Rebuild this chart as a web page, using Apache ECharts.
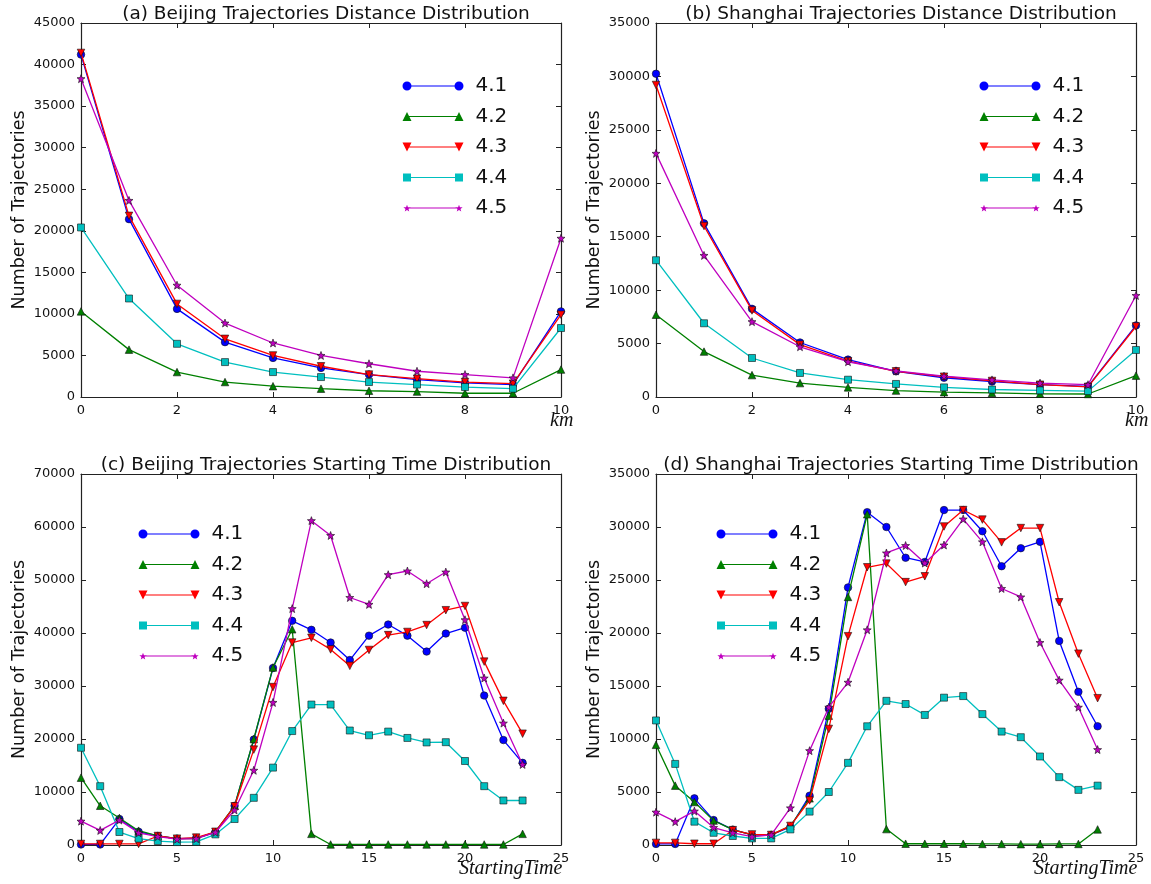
<!DOCTYPE html>
<html>
<head>
<meta charset="utf-8">
<script src="https://cdn.jsdelivr.net/npm/echarts@6/dist/echarts.min.js"></script>
<style>
html,body{margin:0;padding:0;background:#fff;}
#c{width:1151px;height:884px;}
</style>
</head>
<body>
<div id="c"></div>
<script>
// ---------- data ----------
var seriesNames = ['4.1', '4.2', '4.3', '4.4', '4.5'];
var distX = [0, 1, 2, 3, 4, 5, 6, 7, 8, 9, 10];
var hourX = [0, 1, 2, 3, 4, 5, 6, 7, 8, 9, 10, 11, 12, 13, 14, 15, 16, 17, 18, 19, 20, 21, 22, 23];

var bjDist41 = [41200, 21400, 10600, 6600, 4700, 3500, 2700, 2100, 1700, 1500, 10300];
var bjDist42 = [10300, 5700, 3000, 1800, 1300, 1000, 750, 650, 450, 450, 3300];
var bjDist43 = [41400, 21800, 11200, 7000, 5000, 3700, 2700, 2200, 1800, 1600, 9900];
var bjDist44 = [20400, 11850, 6400, 4200, 3000, 2400, 1800, 1500, 1200, 1000, 8300];
var bjDist45 = [38300, 23650, 13450, 8900, 6500, 5000, 4000, 3100, 2700, 2300, 19100];

var shDist41 = [30250, 16250, 8250, 5100, 3500, 2400, 1800, 1450, 1150, 1000, 6700];
var shDist42 = [7700, 4250, 2050, 1300, 900, 600, 450, 380, 300, 280, 2000];
var shDist43 = [29200, 16000, 8100, 4900, 3350, 2400, 1900, 1500, 1150, 950, 6600];
var shDist44 = [12800, 6900, 3650, 2250, 1620, 1220, 900, 700, 620, 550, 4400];
var shDist45 = [22800, 13250, 7050, 4700, 3300, 2450, 1950, 1600, 1300, 1150, 9500];

var bjTime41 = [100, 100, 4900, 2500, 1700, 1200, 1300, 2400, 7400, 19900, 33400, 42300, 40600, 38200, 34900, 39500, 41600, 39500, 36500, 39900, 41000, 28200, 19800, 15500];
var bjTime42 = [12700, 7400, 5100, 2700, 1700, 1200, 1200, 2500, 7400, 20000, 33500, 40700, 2100, 100, 100, 100, 100, 100, 100, 100, 100, 100, 100, 2100];
var bjTime43 = [200, 200, 200, 200, 1700, 1200, 1400, 2500, 7300, 18000, 29800, 38200, 39100, 36900, 33800, 36800, 39600, 40200, 41500, 44300, 45100, 34600, 27200, 21000];
var bjTime44 = [18350, 11100, 2450, 1200, 750, 550, 600, 2000, 4900, 8900, 14600, 21500, 26500, 26500, 21600, 20700, 21400, 20200, 19350, 19400, 15850, 11100, 8400, 8400];
var bjTime45 = [4500, 2750, 4700, 2300, 1600, 1100, 1200, 2400, 6600, 14100, 26900, 44600, 61200, 58400, 46700, 45400, 51000, 51700, 49300, 51500, 42500, 31500, 23000, 15200];

var shTime41 = [100, 100, 4400, 2350, 1450, 950, 950, 1700, 4650, 12850, 24300, 31400, 30000, 27100, 26700, 31600, 31600, 29600, 26300, 28000, 28600, 19250, 14450, 11200];
var shTime42 = [9450, 5600, 4050, 2300, 1450, 950, 950, 1800, 4400, 12200, 23400, 31200, 1500, 120, 120, 120, 120, 100, 100, 80, 80, 100, 100, 1470];
var shTime43 = [200, 200, 120, 120, 1400, 1000, 950, 1800, 4200, 10950, 19700, 26200, 26550, 24800, 25350, 30050, 31600, 30700, 28550, 29900, 29900, 22900, 18050, 13850];
var shTime44 = [11750, 7650, 2200, 1150, 850, 620, 620, 1470, 3150, 5000, 7750, 11200, 13600, 13300, 12270, 13900, 14050, 12350, 10700, 10170, 8350, 6400, 5200, 5600];
var shTime45 = [3100, 2200, 3200, 1650, 1150, 780, 950, 3500, 8900, 13000, 15350, 20300, 27550, 28250, 26600, 28300, 30750, 28600, 24200, 23400, 19100, 15550, 13000, 9000];

var titles = [
  '(a) Beijing Trajectories Distance Distribution',
  '(b) Shanghai Trajectories Distance Distribution',
  '(c) Beijing Trajectories Starting Time Distribution',
  '(d) Shanghai Trajectories Starting Time Distribution'
];
var yName = 'Number of Trajectories';
var xNames = ['km', 'km', 'StartingTime', 'StartingTime'];

// ---------- styling ----------
var FONT = 'DejaVu Sans';
var colors = ['#0000ff', '#008000', '#ff0000', '#00bfbf', '#bf00bf'];

function starPath(cx, cy, R, r) {
  var s = '';
  for (var i = 0; i < 10; i++) {
    var a = -Math.PI / 2 + i * Math.PI / 5;
    var rr = (i % 2 === 0) ? R : r;
    var x = (cx + rr * Math.cos(a)).toFixed(3);
    var y = (cy + rr * Math.sin(a)).toFixed(3);
    s += (i === 0 ? 'M' : 'L') + x + ',' + y + ' ';
  }
  return s + 'Z ';
}
function markerPath(kind, cx) {
  var h = 4.5;
  if (kind === 'circle') return 'M' + (cx - h) + ',4.5 A4.5,4.5 0 1 1 ' + (cx + h) + ',4.5 A4.5,4.5 0 1 1 ' + (cx - h) + ',4.5 Z ';
  if (kind === 'up') return 'M' + cx + ',0 L' + (cx + h) + ',9 L' + (cx - h) + ',9 Z ';
  if (kind === 'down') return 'M' + (cx - h) + ',0 L' + (cx + h) + ',0 L' + cx + ',9 Z ';
  if (kind === 'square') return 'M' + (cx - 4) + ',0.5 L' + (cx + 4) + ',0.5 L' + (cx + 4) + ',8.5 L' + (cx - 4) + ',8.5 Z ';
  return starPath(cx, 5, 3.8, 1.6);
}
var legendKinds = ['circle', 'up', 'down', 'square', 'star'];
function legendIcon(kind) {
  var c1 = 4.5, c2 = 56.5;
  var bbox = 'M0,0 L0.01,0 L0.01,0.01 Z M61,9 L60.99,9 L60.99,8.99 Z ';
  var line = 'M' + c1 + ',4 L' + c2 + ',4 L' + c2 + ',5 L' + c1 + ',5 Z ';
  return 'path://' + line + markerPath(kind, c1) + markerPath(kind, c2) + (kind === 'star' || kind === 'square' ? bbox : '');
}
var plotStar = 'path://' + starPath(5, 5, 5, 2.1);
var symbols = [
  { symbol: 'circle', size: 7.5, rotate: 0 },
  { symbol: 'triangle', size: 7.5, rotate: 0 },
  { symbol: 'triangle', size: 7.5, rotate: 180 },
  { symbol: 'rect', size: 7, rotate: 0 },
  { symbol: plotStar, size: 8, rotate: 0 }
];

// panel layouts
var grids = [
  { left: 81, top: 23, width: 480, height: 374 },
  { left: 656, top: 23, width: 480, height: 374 },
  { left: 81, top: 474, width: 480, height: 371 },
  { left: 656, top: 474, width: 480, height: 371 }
];
var xCfg = [
  { min: 0, max: 10, interval: 2, nameGap: -11 },
  { min: 0, max: 10, interval: 2, nameGap: -11 },
  { min: 0, max: 25, interval: 5, nameGap: -102 },
  { min: 0, max: 25, interval: 5, nameGap: -102 }
];
var yCfg = [
  { min: 0, max: 45000, interval: 5000 },
  { min: 0, max: 35000, interval: 5000 },
  { min: 0, max: 70000, interval: 10000 },
  { min: 0, max: 35000, interval: 5000 }
];
var legendPos = [
  { left: 397.5, top: 71 },
  { left: 974.5, top: 71 },
  { left: 133.5, top: 519 },
  { left: 711.5, top: 519 }
];
var panelData = [
  { x: distX, ys: [bjDist41, bjDist42, bjDist43, bjDist44, bjDist45] },
  { x: distX, ys: [shDist41, shDist42, shDist43, shDist44, shDist45] },
  { x: hourX, ys: [bjTime41, bjTime42, bjTime43, bjTime44, bjTime45] },
  { x: hourX, ys: [shTime41, shTime42, shTime43, shTime44, shTime45] }
];

var axisLine = { show: true, onZero: false, lineStyle: { color: '#222', width: 1.2 } };
var axisTick = { show: true, inside: true, length: 5, lineStyle: { color: '#222', width: 1 } };
function plain(v) { return String(v); }

var option = {
  backgroundColor: '#ffffff',
  animation: false,
  title: [],
  legend: [],
  grid: [],
  xAxis: [],
  yAxis: [],
  series: []
};

grids.forEach(function (g, i) {
  option.grid.push({ left: g.left, top: g.top, width: g.width, height: g.height, containLabel: false, outerBoundsMode: 'none', show: false });
  option.title.push({
    text: titles[i],
    left: g.left + g.width / 2,
    textAlign: 'center',
    top: g.top - 23,
    textStyle: { fontFamily: FONT, fontSize: 18.5, fontWeight: 'normal', color: '#111' }
  });
  option.legend.push({
    orient: 'vertical',
    left: legendPos[i].left,
    top: legendPos[i].top,
    itemWidth: 61,
    itemHeight: 9,
    itemGap: 10.5,
    selectedMode: false,
    itemStyle: { borderWidth: 0 },
    textStyle: { fontFamily: FONT, fontSize: 20, lineHeight: 20, color: '#111', padding: [0, 0, 0, 7] },
    data: seriesNames.map(function (n, k) { return { name: n, icon: legendIcon(legendKinds[k]) }; })
  });
  var xc = xCfg[i], yc = yCfg[i];
  option.xAxis.push({
    gridIndex: i, type: 'value', position: 'bottom', min: xc.min, max: xc.max, interval: xc.interval,
    axisLine: axisLine, axisTick: axisTick, splitLine: { show: false },
    axisLabel: { color: '#111', fontFamily: FONT, fontSize: 13, margin: 7, formatter: plain },
    name: xNames[i], nameLocation: 'end', nameGap: xc.nameGap, nameMoveOverlap: false,
    nameTextStyle: { fontFamily: 'Liberation Serif', fontStyle: 'italic', fontSize: 20, color: '#111', align: 'left', verticalAlign: 'top', padding: [14, 0, 0, 0] }
  });
  option.xAxis.push({
    gridIndex: i, type: 'value', position: 'top', min: xc.min, max: xc.max, interval: xc.interval,
    axisLine: axisLine, axisTick: axisTick, splitLine: { show: false }, axisLabel: { show: false }
  });
  option.yAxis.push({
    gridIndex: i, type: 'value', position: 'left', min: yc.min, max: yc.max, interval: yc.interval,
    axisLine: axisLine, axisTick: axisTick, splitLine: { show: false },
    axisLabel: { color: '#111', fontFamily: FONT, fontSize: 13, margin: 6, formatter: plain },
    name: yName, nameLocation: 'middle', nameRotate: 90, nameGap: 53, nameMoveOverlap: false,
    nameTextStyle: { fontFamily: FONT, fontSize: 17.5, color: '#111' }
  });
  option.yAxis.push({
    gridIndex: i, type: 'value', position: 'right', min: yc.min, max: yc.max, interval: yc.interval,
    axisLine: axisLine, axisTick: axisTick, splitLine: { show: false }, axisLabel: { show: false }
  });
  var pd = panelData[i];
  pd.ys.forEach(function (vals, k) {
    option.series.push({
      type: 'line',
      name: seriesNames[k],
      xAxisIndex: i * 2,
      yAxisIndex: i * 2,
      data: pd.x.map(function (xv, j) { return [xv, vals[j]]; }),
      symbol: symbols[k].symbol,
      symbolSize: symbols[k].size,
      symbolRotate: symbols[k].rotate,
      showAllSymbol: true,
      clip: false,
      lineStyle: { color: colors[k], width: 1.3 },
      itemStyle: { color: colors[k], borderColor: '#111', borderWidth: 0.6 },
      emphasis: { disabled: true },
      z: 2 + k
    });
  });
});

var chart = echarts.init(document.getElementById('c'), null, { renderer: 'canvas' });
chart.setOption(option);
</script>
</body>
</html>
